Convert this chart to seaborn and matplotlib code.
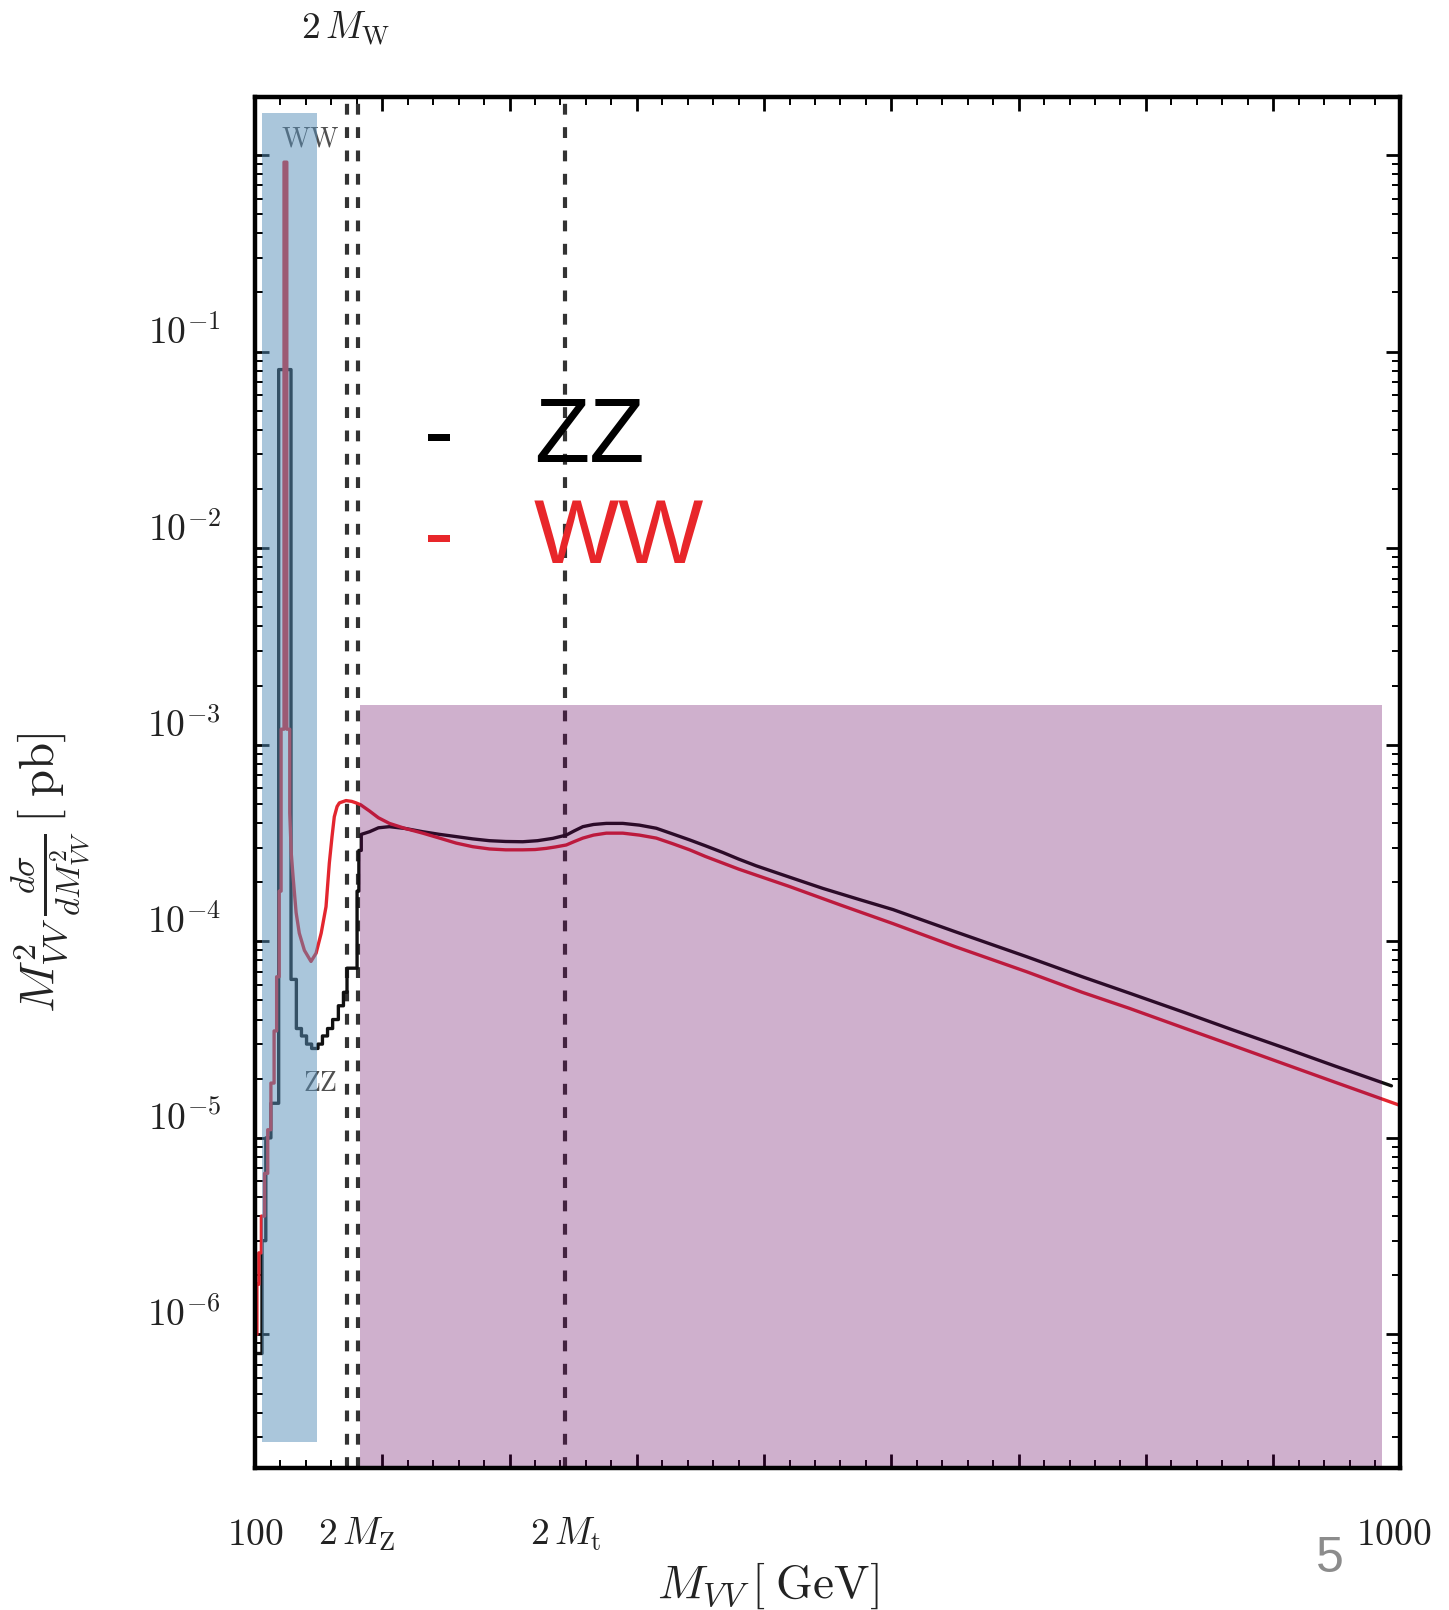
import numpy as np
import pandas as pd
import matplotlib
matplotlib.use("Agg")
import matplotlib.pyplot as plt
import seaborn as sns
from matplotlib.patches import Rectangle
from matplotlib.ticker import MultipleLocator, LogLocator, NullFormatter
from matplotlib.transforms import blended_transform_factory, offset_copy

# ---------------- data ----------------
# ZZ : histogram-like part below threshold (bin edges / values), then smooth part
zz_step_edges = [100, 105.5, 108.5, 112.5, 118.6, 128.3, 132.5, 136.5, 140.5, 144.5,
                 149.5, 153, 157, 161, 165.5, 169.5, 172.3, 180.2, 181.6, 183.5]
zz_step_values = [8.0e-7, 3.0e-6, 1.0e-5, 1.5e-5, 8.1e-2, 6.4e-5, 3.6e-5, 3.3e-5, 3.0e-5,
                  2.85e-5, 3.0e-5, 3.3e-5, 3.6e-5, 4.0e-5, 4.7e-5, 5.5e-5, 7.3e-5, 1.8e-4, 2.9e-4]
zz_mass = [183.5, 190, 197, 205.6, 218, 231.8, 245, 258, 271, 284.2, 297, 310.4, 322, 334,
           344.5, 351, 357.6, 366, 376, 389, 402, 415.3, 428, 441.5, 454, 467.6, 480, 493.9,
           520, 546, 575, 601.3, 650, 706.3, 750, 787.0, 830, 867.8, 910, 948.5, 992.9]
zz_values = [3.5e-4, 3.61e-4, 3.78e-4, 3.83e-4, 3.75e-4, 3.61e-4, 3.5e-4, 3.41e-4, 3.32e-4,
             3.25e-4, 3.22e-4, 3.21e-4, 3.25e-4, 3.34e-4, 3.47e-4, 3.65e-4, 3.83e-4, 3.93e-4,
             3.98e-4, 3.98e-4, 3.9e-4, 3.76e-4, 3.52e-4, 3.28e-4, 3.06e-4, 2.83e-4, 2.62e-4,
             2.42e-4, 2.12e-4, 1.86e-4, 1.63e-4, 1.45e-4, 1.12e-4, 8.35e-5, 6.6e-5, 5.45e-5,
             4.35e-5, 3.55e-5, 2.85e-5, 2.32e-5, 1.84e-5]

# WW
ww_step_edges = [100, 101.5, 103, 105, 107.5, 110, 112.5, 115, 117, 119, 120.5, 122.8,
                 125.0, 127.3]
ww_step_values = [1.0e-6, 1.8e-6, 2.6e-6, 4.0e-6, 6.6e-6, 1.1e-5, 1.9e-5, 3.5e-5, 6.6e-5,
                  1.8e-4, 1.2e-3, 0.92, 1.2e-3]
ww_mass = [127.3, 128.5, 130, 132.3, 134.8, 138.8, 144, 148, 152, 155.8, 158.4, 160.5,
           162.3, 164.5, 166.3, 171.5, 176, 179.4, 183, 190, 197, 205.6, 218, 231.8, 245,
           258, 271, 284.2, 297, 310.4, 320, 328.8, 336, 344.5, 351, 357.6, 366, 376, 389,
           402, 415.3, 428, 441.5, 454, 467.6, 480, 493.9, 520, 560, 601.3, 650, 706.3, 750,
           787.0, 830, 867.8, 910, 948.5, 1000]
ww_values = [4.5e-4, 2.8e-4, 2.1e-4, 1.4e-4, 1.1e-4, 9.0e-5, 7.9e-5, 8.7e-5, 1.1e-4,
             1.5e-4, 2.5e-4, 3.4e-4, 4.3e-4, 4.85e-4, 5.06e-4, 5.2e-4, 5.15e-4, 5.06e-4,
             4.95e-4, 4.6e-4, 4.25e-4, 3.98e-4, 3.75e-4, 3.55e-4, 3.35e-4, 3.16e-4, 3.03e-4,
             2.95e-4, 2.92e-4, 2.92e-4, 2.93e-4, 2.97e-4, 3.02e-4, 3.09e-4, 3.22e-4, 3.35e-4,
             3.47e-4, 3.55e-4, 3.55e-4, 3.47e-4, 3.35e-4, 3.14e-4, 2.92e-4, 2.7e-4, 2.5e-4,
             2.33e-4, 2.17e-4, 1.9e-4, 1.53e-4, 1.23e-4, 9.4e-5, 7.0e-5, 5.5e-5, 4.56e-5,
             3.62e-5, 2.96e-5, 2.36e-5, 1.92e-5, 1.46e-5]

threshold_mass = [171.9, 180.8, 343.8]          # 2 M_W, 2 M_Z, 2 M_t guide lines
low_band = [105.3, 149.0, 2.85e-7, 1.63]        # x0, x1, y0, y1
high_band = [182.8, 985.7, 2.08e-7, 1.6e-3]
x_range = [100, 1000]
y_range = [2.08e-7, 1.985]
y_tick_values = [1e-1, 1e-2, 1e-3, 1e-4, 1e-5, 1e-6]
y_tick_labels = [r"$10^{-1}$", r"$10^{-2}$", r"$10^{-3}$", r"$10^{-4}$", r"$10^{-5}$", r"$10^{-6}$"]
x_label_pos = [100, 180, 344, 995]
x_label_text = [r"$100$", r"$2\,M_{\mathrm{Z}}$", r"$2\,M_{\mathrm{t}}$", r"$1000$"]
top_label_pos = 171
top_label_text = r"$2\,M_{\mathrm{W}}$"


def step_frame(edges, values, name):
    xs, ys = [], []
    for i, v in enumerate(values):
        xs += [edges[i], edges[i + 1]]
        ys += [v, v]
    return pd.DataFrame({"mass": xs, "value": ys, "series": name})


zz_df = pd.concat([step_frame(zz_step_edges, zz_step_values, "ZZ"),
                   pd.DataFrame({"mass": zz_mass, "value": zz_values, "series": "ZZ"})],
                  ignore_index=True)
ww_df = pd.concat([step_frame(ww_step_edges, ww_step_values, "WW"),
                   pd.DataFrame({"mass": ww_mass, "value": ww_values, "series": "WW"})],
                  ignore_index=True)

# ---------------- style ----------------
sns.set_style("white")
plt.rcParams["mathtext.fontset"] = "cm"
plt.rcParams["font.family"] = ["DejaVu Serif"]

fig = plt.figure(figsize=(14.49, 16.10), dpi=100)
ax = fig.add_axes([0.17598, 0.08789, 0.79054, 0.85217])
ax.set_yscale("log")
ax.set_xlim(*x_range)
ax.set_ylim(*y_range)

RED = "#e3262f"
BLACK = "#111111"

sns.lineplot(data=zz_df, x="mass", y="value", sort=False, estimator=None,
             color=BLACK, lw=2.4, ax=ax, zorder=2)
sns.lineplot(data=ww_df, x="mass", y="value", sort=False, estimator=None,
             color=RED, lw=2.4, ax=ax, zorder=2.05)

for m in threshold_mass:
    ax.axvline(m, color="#333333", lw=3.0, linestyle=(0, (2.6, 3.0)), zorder=1.9)

# shaded regions (drawn over the curves, semi-transparent)
ax.add_patch(Rectangle((low_band[0], low_band[2]), low_band[1] - low_band[0],
                       low_band[3] - low_band[2], facecolor="#578fb9", alpha=0.5,
                       edgecolor="none", zorder=2.3))
ax.add_patch(Rectangle((high_band[0], high_band[2]), high_band[1] - high_band[0],
                       high_band[3] - high_band[2], facecolor="#67005e", alpha=0.31,
                       edgecolor="none", zorder=2.3))

# in-plot labels
ax.text(143.6, 1.2, r"$\mathrm{WW}$", fontsize=20, color="#505050", ha="center",
        va="center", zorder=2.1)
ax.text(150.8, 1.9e-5, r"$\mathrm{ZZ}$", fontsize=20, color="#505050", ha="center",
        va="center", zorder=2.1)

# ticks
ax.xaxis.set_major_locator(MultipleLocator(100))
ax.xaxis.set_minor_locator(MultipleLocator(20))
ax.yaxis.set_major_locator(LogLocator(base=10, numticks=20))
ax.yaxis.set_minor_locator(LogLocator(base=10, subs=np.arange(2, 10), numticks=40))
ax.yaxis.set_minor_formatter(NullFormatter())
ax.tick_params(which="both", direction="in", top=True, right=True, bottom=True, left=True,
               labelbottom=False, labelleft=False, color="black")
ax.tick_params(which="major", length=10, width=2.0)
ax.tick_params(which="minor", length=5.5, width=1.4)
for s in ax.spines.values():
    s.set_linewidth(3.2)
    s.set_color("black")
ax.set_xlabel("")
ax.set_ylabel("")
ax.grid(False)

# y tick labels
ytrans = offset_copy(blended_transform_factory(ax.transAxes, ax.transData), fig=fig,
                     y=8, units="dots")
for v, lab in zip(y_tick_values, y_tick_labels):
    ax.text(-0.0297, v, lab, transform=ytrans, ha="right", va="baseline", fontsize=27,
            color="#222222")

# x tick labels
xtrans = blended_transform_factory(ax.transData, fig.transFigure)
for p, lab in zip(x_label_pos, x_label_text):
    ax.text(p, 0.0404, lab, transform=xtrans, ha="center", va="baseline", fontsize=27,
            color="#222222", clip_on=False)
ax.text(top_label_pos, 0.9758, top_label_text, transform=xtrans, ha="center",
        va="baseline", fontsize=27, color="#222222", clip_on=False)

# axis titles
fig.text(0.4534, 0.0075, r"$M_{VV}\,[\;\mathrm{GeV}]$", ha="left", va="baseline",
         fontsize=34, color="#222222")
fig.text(0.0352, 1 - 873 / 1610, r"$M_{VV}^2\,\frac{d\sigma}{dM_{VV}^2}\,[\;\mathrm{pb}]$",
         rotation=90, ha="center", va="center", fontsize=35, color="#222222")

# large legend text
fig.text(439.5 / 1449, 1 - 462 / 1610, "-", fontsize=65, family="Liberation Sans",
         color="black", ha="center", va="baseline")
fig.text(534 / 1449, 1 - 462 / 1610, "ZZ", fontsize=65, family="Liberation Sans",
         color="black", ha="left", va="baseline")
fig.text(439.5 / 1449, 1 - 563 / 1610, "-", fontsize=65, family="Liberation Sans",
         color="#e8262a", ha="center", va="baseline")
fig.text(534 / 1449, 1 - 563 / 1610, "WW", fontsize=65, family="Liberation Sans",
         color="#e8262a", ha="left", va="baseline")

# page number
fig.text(1330 / 1449, 1 - 1559 / 1610, "5", fontsize=36, family="Liberation Sans",
         color="#8c8c8c", ha="center", va="center")

fig.savefig("out.png", dpi=100)
